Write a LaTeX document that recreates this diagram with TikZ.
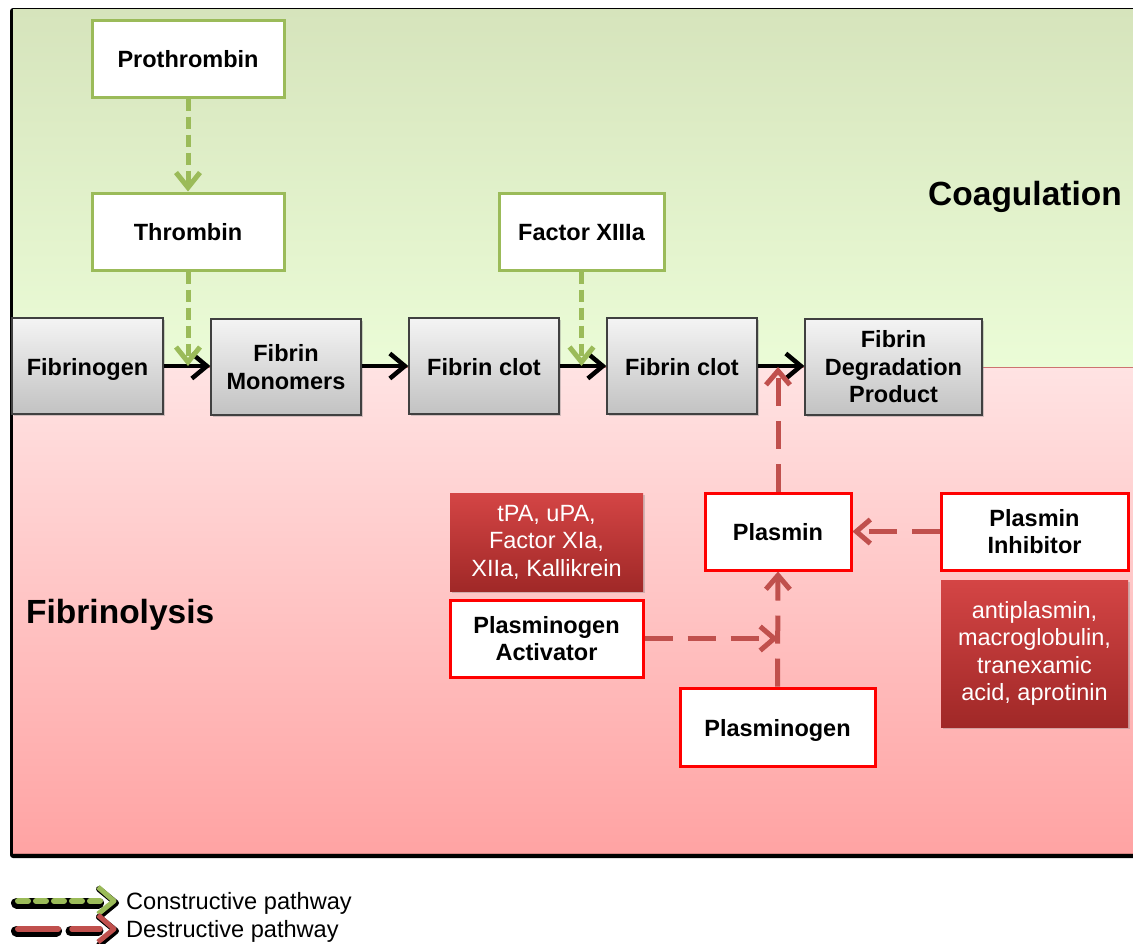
\documentclass[tikz,border=0pt]{standalone}
\usepackage{fontspec}
\setmainfont{Liberation Sans}
\usetikzlibrary{arrows.meta,shadows}

\definecolor{coagtop}{HTML}{D6E4BC}
\definecolor{coagbot}{HTML}{EBFCD7}
\definecolor{lysistop}{HTML}{FFE3E3}
\definecolor{lysisbot}{HTML}{FFA3A3}
\definecolor{olive}{HTML}{9BBB59}
\definecolor{brick}{HTML}{C0504D}
\definecolor{darktop}{HTML}{D44545}
\definecolor{darkbot}{HTML}{A02827}
\definecolor{graytop}{HTML}{F4F4F4}
\definecolor{graybot}{HTML}{C2C2C2}

\tikzset{
  boxfont/.style={font=\bfseries\fontsize{23.5}{27.5}\selectfont},
  oneline/.style={text height=23pt, text depth=5pt},
  greenbox/.style={boxfont, draw=olive, line width=3pt, fill=white,
    inner sep=0pt, align=center},
  graybox/.style={boxfont, draw=black!75, line width=1.3pt,
    top color=graytop, bottom color=graybot, inner sep=0pt, align=center,
    drop shadow={shadow xshift=1.5pt, shadow yshift=-2pt, opacity=0.35}},
  redbox/.style={boxfont, draw=red, line width=3pt, fill=white,
    inner sep=0pt, align=center},
  darkbox/.style={font=\fontsize{23.5}{27.5}\selectfont, text=white,
    top color=darktop, bottom color=darkbot, inner sep=0pt, align=center,
    drop shadow={shadow xshift=1.5pt, shadow yshift=-2pt, opacity=0.35}},
  flow/.style={line width=4.5pt, black,
    -{Straight Barb[length=15pt, width=25pt, line width=4.5pt]}},
  buildarrow/.style={line width=5pt, olive, dash pattern=on 12pt off 6pt,
    -{Straight Barb[length=15pt, width=24pt, line width=5pt]}},
  breakarrow/.style={line width=5pt, brick, dash pattern=on 28pt off 15pt,
    -{Straight Barb[length=14pt, width=24pt, line width=5pt]}},
  region/.style={font=\bfseries\fontsize{33.5}{38}\selectfont, inner sep=0pt},
  legendtext/.style={font=\fontsize{23.6}{26}\selectfont, anchor=west, inner sep=0pt}
}

\begin{document}
\begin{tikzpicture}[x=1pt, y=-1pt]
\useasboundingbox (0,0) rectangle (1133,943);

% panel: dark shadow edge, coagulation half, fibrinolysis half
\fill[black, rounded corners=3pt] (10,8) rectangle (1140,858);
\shade[top color=coagtop, bottom color=coagbot] (13,9.5) rectangle (1133,367);
\shade[top color=lysistop, bottom color=lysisbot] (13,367) rectangle (1133,853);
\draw[line width=1pt, draw=brick!80] (13,367) -- (1133,367);
\draw[line width=0.8pt, draw=brick!70] (13,853) -- (1133,853);

% region labels
\node[region] (coag) at (1025,197) {Coagulation};
\node[region, anchor=west] (lysis) at (26,615) {Fibrinolysis};

% coagulation factors
\node[greenbox, oneline, minimum width=192pt, minimum height=77pt] (prothrombin) at (188,58.5) {Prothrombin};
\node[greenbox, oneline, minimum width=192pt, minimum height=77pt] (thrombin) at (188,231.5) {Thrombin};
\node[greenbox, oneline, minimum width=165pt, minimum height=77pt] (f13a) at (581.5,231.5) {Factor XIIIa};

% fibrin chain
\node[graybox, oneline, minimum width=151pt, minimum height=96pt] (fibrinogen) at (87.5,366) {Fibrinogen};
\node[graybox, minimum width=150pt, minimum height=96pt] (monomers) at (286,367) {Fibrin\\Monomers};
\node[graybox, oneline, minimum width=150pt, minimum height=96pt] (clotA) at (484,366) {Fibrin clot};
\node[graybox, oneline, minimum width=150pt, minimum height=96pt] (clotB) at (682,366) {Fibrin clot};
\node[graybox, minimum width=177pt, minimum height=96pt] (fdp) at (893.5,367) {Fibrin\\Degradation\\Product};

% fibrinolysis factors
\node[darkbox, minimum width=193pt, minimum height=98pt] (activators) at (546.5,542) {tPA, uPA,\\Factor XIa,\\XIIa, Kallikrein};
\node[redbox, minimum width=193pt, minimum height=77pt] (pa) at (546.5,638.5) {Plasminogen\\Activator};
\node[redbox, oneline, minimum width=146pt, minimum height=77pt] (plasmin) at (778,531.5) {Plasmin};
\node[redbox, minimum width=187pt, minimum height=77pt] (inhib) at (1034.5,531.5) {Plasmin\\Inhibitor};
\node[darkbox, minimum width=187pt, minimum height=147pt] (inhibitors) at (1034.5,653.5) {antiplasmin,\\macroglobulin,\\tranexamic\\acid, aprotinin};
\node[redbox, oneline, minimum width=195pt, minimum height=78pt] (plasminogen) at (777.5,727) {Plasminogen};

% main chain
\draw[flow] (fibrinogen.east) -- (monomers.west |- fibrinogen.east);
\draw[flow] (monomers.east |- clotA.west) -- (clotA.west);
\draw[flow] (clotA.east) -- (clotB.west);
\draw[flow] (clotB.east) -- (fdp.west |- clotB.east);

% constructive pathway
\coordinate (thrombinhit) at (thrombin.south |- fibrinogen.east);
\coordinate (f13hit) at (f13a.south |- clotA.east);
\draw[buildarrow] (prothrombin.south) -- (thrombin.north);
\draw[buildarrow] (thrombin.south) -- (thrombinhit);
\draw[buildarrow] (f13a.south) -- (f13hit);

% destructive pathway
\coordinate (plasminhit) at (plasmin.north |- clotB.east);
\coordinate (pahit) at (plasmin.south |- pa.east);
\draw[breakarrow] (plasmin.north) -- ([yshift=-1pt]plasminhit);
\draw[breakarrow] (inhib.west) -- (plasmin.east);
\draw[breakarrow] (plasminogen.north) -- (plasmin.south);
\draw[breakarrow] (pa.east) -- (pahit);

% legend
\coordinate (lgA) at (18,901);
\coordinate (lgB) at (100,901);
\coordinate (lrA) at (18,929);
\coordinate (lrB) at (58,929);
\coordinate (lrC) at (72,929);
\coordinate (lrD) at (100,929);
\draw[black, line width=11pt, line cap=round] ([shift={(-1.5,2)}]lgA) -- ([shift={(-1.5,2)}]lgB);
\draw[black, line width=6pt, line cap=round, line join=round] (99,889) -- (116,903) -- (99,917);
\draw[olive, line width=6pt, line cap=round, dash pattern=on 10pt off 8pt] (lgA) -- (lgB);
\draw[olive, line width=5pt, line join=round] (98,887) -- (114,901) -- (98,914);
\draw[black, line width=11pt, line cap=round] ([shift={(-1.5,2)}]lrA) -- ([shift={(-1.5,2)}]lrB);
\draw[black, line width=10pt, line cap=round] ([shift={(-1.5,2)}]lrC) -- ([shift={(-1.5,2)}]lrD);
\draw[black, line width=6pt, line cap=round, line join=round] (99,917) -- (116,931) -- (99,945);
\draw[brick, line width=6pt, line cap=round] (lrA) -- (lrB);
\draw[brick, line width=5.5pt, line cap=round] (lrC) -- (lrD);
\draw[brick, line width=5pt, line join=round] (98,915) -- (114,929) -- (98,942);
\node[legendtext] (lgtext) at (126,903.5) {Constructive pathway};
\node[legendtext] (lrtext) at (126,931) {Destructive pathway};
\end{tikzpicture}
\end{document}
